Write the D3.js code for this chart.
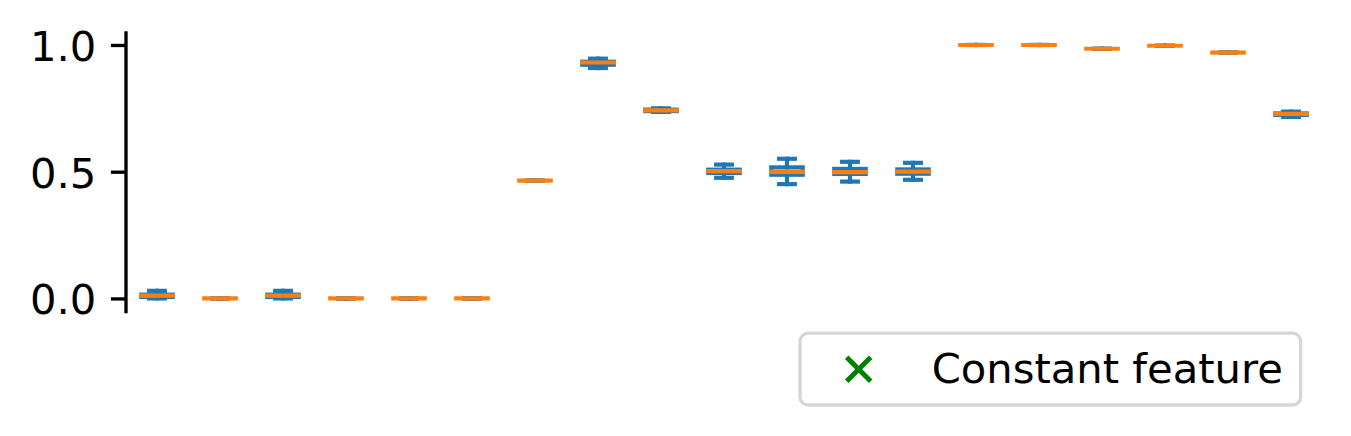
<!DOCTYPE html>
<html>
<head>
<meta charset="utf-8">
<script src="https://cdn.jsdelivr.net/npm/d3@7"></script>
<style>
  html, body { margin: 0; padding: 0; background: #fff; }
  svg { display: block; }
  text { font-family: "DejaVu Sans", sans-serif; }
</style>
</head>
<body>
<svg id="chart" width="1351" height="436"></svg>
<script>
// ---- data ----
const positions = [1,2,3,4,5,6,7,8,9,10,11,12,13,14,15,16,17,18,19];
const whiskerLow  = [0.000,0,0.000,0,0,0,0.465,0.909,0.736,0.476,0.451,0.461,0.468,1.000,1.000,0.985,0.997,0.970,0.716];
const quartile1   = [0.006,0,0.006,0,0,0,0.465,0.922,0.739,0.495,0.488,0.491,0.492,1.000,1.000,0.985,0.997,0.970,0.724];
const medians     = [0.011,0,0.011,0,0,0,0.465,0.931,0.742,0.502,0.499,0.498,0.500,1.000,1.000,0.985,0.997,0.970,0.728];
const quartile3   = [0.015,0,0.015,0,0,0,0.465,0.934,0.745,0.508,0.517,0.511,0.509,1.000,1.000,0.985,0.997,0.970,0.730];
const whiskerHigh = [0.030,0,0.030,0,0,0,0.465,0.946,0.750,0.528,0.551,0.539,0.535,1.000,1.000,0.985,0.997,0.970,0.737];
const yTicks = [0.0, 0.5, 1.0];
const legendLabels = ["Constant feature"];

const boxes = positions.map((p, i) => ({
  pos: p, lo: whiskerLow[i], q1: quartile1[i], med: medians[i], q3: quartile3[i], hi: whiskerHigh[i]
}));

// ---- layout ----
const svg = d3.select("#chart");
const x = d3.scaleLinear().domain([0.5, 19.5]).range([125.5, 1322.5]);
const y = d3.scaleLinear().domain([-0.05, 1.05]).range([311.1, 32.3]);
const fontSize = 41.7;
const lw = 4.17;           // 1pt line width
const boxW = 0.5, capW = 0.25;
const blue = "#1f77b4", orange = "#ff7f0e";

// ---- y axis ----
const yAxis = d3.axisLeft(y)
  .tickValues(yTicks)
  .tickFormat(d3.format(".1f"))
  .tickSize(14.6)
  .tickSizeOuter(0)
  .tickPadding(14.6);

const gAxis = svg.append("g").attr("transform", "translate(125.5,0)").call(yAxis);
gAxis.select(".domain").attr("stroke", "#000").attr("stroke-width", 3.33).attr("stroke-linecap", "square");
gAxis.selectAll(".tick line").attr("stroke", "#000").attr("stroke-width", 3.33);
gAxis.selectAll(".tick text")
  .attr("fill", "#000")
  .attr("font-size", fontSize)
  .attr("font-family", "DejaVu Sans")
  .attr("dy", "0.37em");

// ---- boxes ----
const g = svg.append("g");
const bg = g.selectAll("g.box").data(boxes).enter().append("g").attr("class", "box");

// whiskers
bg.append("line")
  .attr("x1", d => x(d.pos)).attr("x2", d => x(d.pos))
  .attr("y1", d => y(d.q1)).attr("y2", d => y(d.lo))
  .attr("stroke", blue).attr("stroke-width", lw).attr("stroke-linecap", "square");
bg.append("line")
  .attr("x1", d => x(d.pos)).attr("x2", d => x(d.pos))
  .attr("y1", d => y(d.q3)).attr("y2", d => y(d.hi))
  .attr("stroke", blue).attr("stroke-width", lw).attr("stroke-linecap", "square");
// caps
bg.append("line")
  .attr("x1", d => x(d.pos - capW / 2)).attr("x2", d => x(d.pos + capW / 2))
  .attr("y1", d => y(d.lo)).attr("y2", d => y(d.lo))
  .attr("stroke", blue).attr("stroke-width", lw).attr("stroke-linecap", "square");
bg.append("line")
  .attr("x1", d => x(d.pos - capW / 2)).attr("x2", d => x(d.pos + capW / 2))
  .attr("y1", d => y(d.hi)).attr("y2", d => y(d.hi))
  .attr("stroke", blue).attr("stroke-width", lw).attr("stroke-linecap", "square");
// box
bg.append("rect")
  .attr("x", d => x(d.pos - boxW / 2))
  .attr("width", d => x(d.pos + boxW / 2) - x(d.pos - boxW / 2))
  .attr("y", d => y(d.q3))
  .attr("height", d => Math.max(0, y(d.q1) - y(d.q3)))
  .attr("fill", "none")
  .attr("stroke", blue).attr("stroke-width", lw).attr("stroke-linejoin", "miter");
// median
bg.append("line")
  .attr("x1", d => x(d.pos - boxW / 2)).attr("x2", d => x(d.pos + boxW / 2))
  .attr("y1", d => y(d.med)).attr("y2", d => y(d.med))
  .attr("stroke", orange).attr("stroke-width", lw).attr("stroke-linecap", "square");

// ---- legend ----
const leg = svg.append("g");
leg.append("rect")
  .attr("x", 800).attr("y", 333.2)
  .attr("width", 500.6).attr("height", 71.8)
  .attr("rx", 8).attr("ry", 8)
  .attr("fill", "#fff").attr("fill-opacity", 0.8)
  .attr("stroke", "#d6d6d6").attr("stroke-width", 3.3);
const mx = 858.7, my = 369.3, ms = 12;
const xMark = leg.append("g").attr("stroke", "#008000").attr("stroke-width", 5);
xMark.append("line").attr("x1", mx - ms).attr("y1", my - ms).attr("x2", mx + ms).attr("y2", my + ms);
xMark.append("line").attr("x1", mx - ms).attr("y1", my + ms).attr("x2", mx + ms).attr("y2", my - ms);
leg.selectAll("text.lab").data(legendLabels).enter().append("text")
  .attr("class", "lab")
  .attr("x", 931.7).attr("y", 382.5)
  .attr("font-size", fontSize)
  .attr("fill", "#000")
  .text(d => d);
</script>
</body>
</html>
